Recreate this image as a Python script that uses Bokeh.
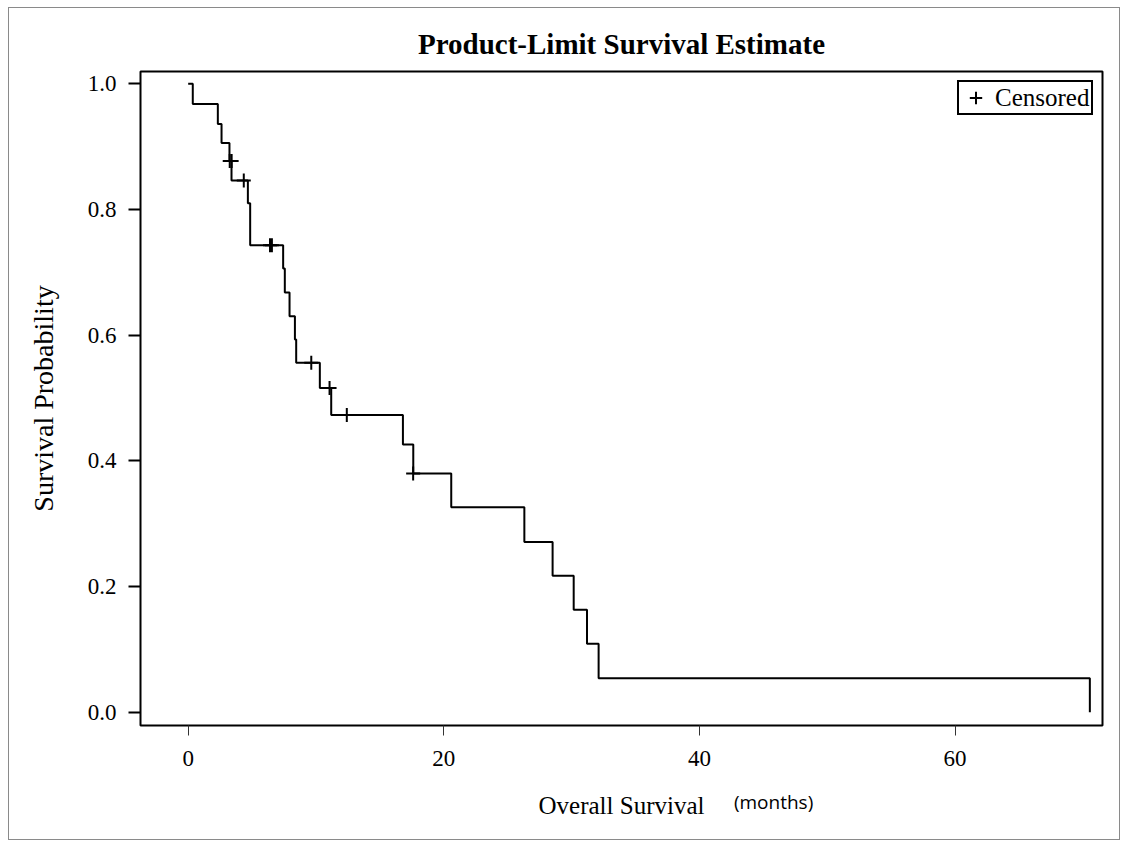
from bokeh.plotting import figure
from bokeh.models import (Range1d, FixedTicker, Legend, LegendItem, ColumnDataSource,
                          CustomJSTickFormatter, LinearAxis)
from bokeh.embed import file_html
from bokeh.resources import INLINE

# Kaplan-Meier step data (time in months, survival probability after the event)
step_time = [0.0, 0.36, 2.32, 2.61, 3.23, 3.39, 4.67, 4.85, 7.43, 7.56, 7.93, 8.35, 8.45,
             10.3, 11.19, 16.8, 17.61, 20.58, 26.3, 28.51, 30.16, 31.2, 32.11, 70.54]
step_surv = [1.0, 0.968, 0.936, 0.906, 0.877, 0.846, 0.810, 0.743, 0.706, 0.668, 0.630, 0.593, 0.556,
             0.516, 0.473, 0.426, 0.380, 0.326, 0.271, 0.217, 0.163, 0.109, 0.054, 0.0]

# Censored observations
cens_time = [3.25, 3.4, 4.35, 6.4, 6.55, 9.63, 11.06, 12.41, 17.6]
cens_surv = [0.877, 0.877, 0.846, 0.743, 0.743, 0.556, 0.516, 0.473, 0.380]

x_ticks = [0, 20, 40, 60]
y_ticks = [0.0, 0.2, 0.4, 0.6, 0.8, 1.0]

title_text = "Product-Limit Survival Estimate"
x_label = "Overall Survival"
x_unit_label = "(months)"
y_label = "Survival Probability"
legend_label = "Censored"

SERIF = "Liberation Serif"

p = figure(
    frame_width=962, frame_height=654,
    min_border_left=131, min_border_right=17, min_border_top=63, min_border_bottom=114,
    x_range=Range1d(-3.73, 71.53), y_range=Range1d(-0.0212, 1.0196),
    output_backend="svg", toolbar_location=None,
    title=title_text,
)
p.margin = (7, 0, 0, 8)
p.styles = {"border": "1px solid #8a8a8a"}

p.title.align = "center"
p.title.text_font = SERIF
p.title.text_font_size = "29px"
p.title.text_font_style = "bold"
p.title.text_color = "black"
p.title.standoff = 24

p.xgrid.visible = False
p.ygrid.visible = False
p.outline_line_color = "black"
p.outline_line_width = 2
p.outline_line_alpha = 1
p.background_fill_color = "white"
p.border_fill_color = "white"

p.xaxis.ticker = FixedTicker(ticks=x_ticks)
p.yaxis.ticker = FixedTicker(ticks=y_ticks)
p.yaxis.formatter = CustomJSTickFormatter(code="return tick.toFixed(1);")

for ax in (p.xaxis, p.yaxis):
    ax.axis_line_color = None
    ax.minor_tick_line_color = None
    ax.major_tick_in = 0
    ax.major_label_text_font = SERIF
    ax.major_label_text_font_size = "23px"
    ax.major_label_text_color = "black"
    ax.axis_label_text_font = SERIF
    ax.axis_label_text_font_style = "normal"
    ax.axis_label_text_color = "black"

p.xaxis.major_tick_out = 10
p.xaxis.major_tick_line_width = 1
p.xaxis.major_tick_line_color = "#333333"
p.xaxis.major_label_standoff = 15
p.xaxis.axis_label = x_label
p.xaxis.axis_label_text_font_size = "25px"
p.xaxis.axis_label_standoff = 23

p.yaxis.major_tick_out = 12
p.yaxis.major_tick_line_width = 2
p.yaxis.major_tick_line_color = "black"
p.yaxis.major_label_standoff = 12
p.yaxis.axis_label = y_label
p.yaxis.axis_label_text_font_size = "28px"
p.yaxis.axis_label_standoff = 26

# secondary label "(months)" set beside the x-axis title, as a lone tick label of a bare axis
ax2 = LinearAxis(ticker=FixedTicker(ticks=[45.8]),
                 formatter=CustomJSTickFormatter(args=dict(t=x_unit_label), code="return t;"))
ax2.axis_line_color = None
ax2.major_tick_line_color = None
ax2.minor_tick_line_color = None
ax2.major_tick_out = 0
ax2.major_tick_in = 0
ax2.major_label_standoff = -33
ax2.major_label_text_font = "Open Sans"
ax2.major_label_text_font_size = "19px"
ax2.major_label_text_color = "black"
p.add_layout(ax2, "below")

p.step(step_time, step_surv, mode="after", line_color="black", line_width=2)

cens_src = ColumnDataSource(dict(x=cens_time, y=cens_surv))
cr = p.scatter("x", "y", source=cens_src, marker="cross", size=14,
               line_color="black", line_width=2)

legend = Legend(items=[LegendItem(label=legend_label, renderers=[cr])],
                location="top_right")
legend.label_text_font = SERIF
legend.label_text_font_size = "25px"
legend.label_text_color = "black"
legend.border_line_color = "black"
legend.border_line_width = 2
legend.border_line_alpha = 1
legend.padding = 0
legend.margin = 9
legend.label_standoff = 3
legend.glyph_width = 33
legend.glyph_height = 31
legend.label_height = 31
legend.label_width = 96
legend.background_fill_alpha = 1
p.add_layout(legend)

open("out.html", "w").write(file_html(p, INLINE))
